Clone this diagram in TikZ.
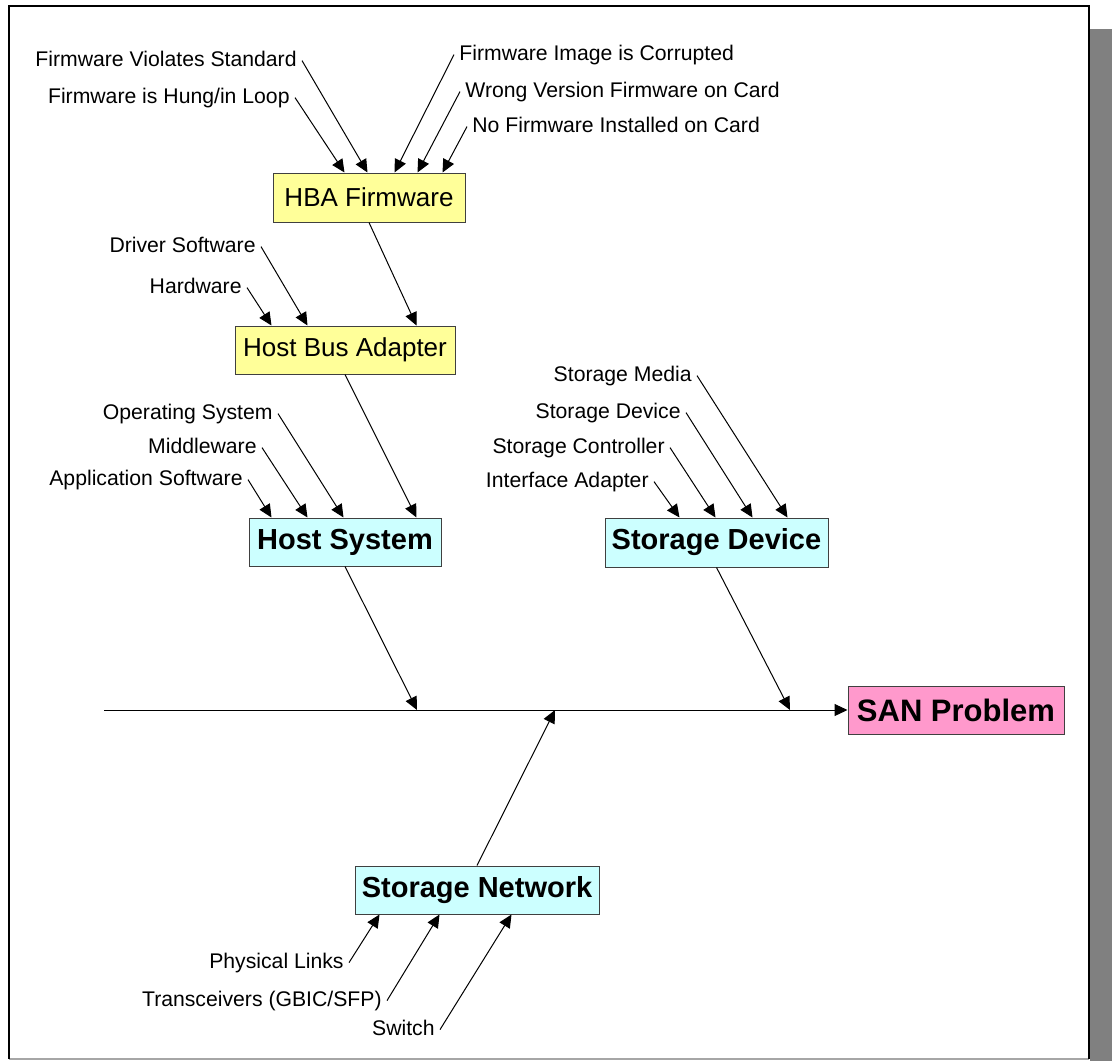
\documentclass[tikz,border=0pt]{standalone}
\usepackage{fontspec}
\setmainfont{Liberation Sans}
\usetikzlibrary{arrows.meta,calc}
\definecolor{boxyellow}{HTML}{FFFF99}
\definecolor{boxcyan}{HTML}{CCFFFF}
\definecolor{boxpink}{HTML}{FF99CC}
\definecolor{shadowgray}{HTML}{808080}
\begin{document}
\begin{tikzpicture}[x=0.5pt,y=-0.5pt,
 lbl/.style={font=\fontsize{10.6}{12}\selectfont, inner sep=2.5pt, text height=7.6pt, text depth=2.2pt},
 box/.style={draw=black!75, line width=0.5pt, inner sep=0pt},
 boxr/.style={box, font=\fontsize{13}{15}\selectfont},
 boxb/.style={box, font=\bfseries\fontsize{14.5}{17}\selectfont},
 arr/.style={line width=0.5pt, -{Triangle[length=6.5pt,width=6pt]}},
]
\useasboundingbox (0,0) rectangle (1112,1061);
% frame and shadow
\fill[shadowgray] (1090,29) rectangle (1112,1061);
\draw[black!35, line width=0.8pt] (9,1059) -- (1089,1059);
\draw[line width=1pt] (9,1059) -- (9,6) -- (1088.5,6) -- (1088.5,1059);

% main boxes
\node[boxr, fill=boxyellow, minimum width=96pt, minimum height=24.5pt] (hbafw) at (369,197.5) {HBA Firmware};
\node[boxr, fill=boxyellow, minimum width=110pt, minimum height=24pt] (hba) at (345,350) {Host Bus Adapter};
\node[boxb, fill=boxcyan, minimum width=96pt, minimum height=24pt] (host) at (345,542) {Host System};
\node[boxb, fill=boxcyan, minimum width=111.5pt, minimum height=24.5pt] (sdev) at (716.5,542.5) {Storage Device};
\node[boxb, fill=boxcyan, minimum width=122pt, minimum height=24pt] (snet) at (477,890) {Storage Network};
\node[box, fill=boxpink, font=\bfseries\fontsize{15.5}{18}\selectfont, minimum width=108pt, minimum height=24pt] (san) at (956,710) {SAN Problem};

% labels
\node[lbl, anchor=base east] (fvs) at (302,66) {Firmware Violates Standard};
\node[lbl, anchor=base east] (fhl) at (295,103) {Firmware is Hung/in Loop};
\node[lbl, anchor=base west] (fic) at (454,60) {Firmware Image is Corrupted};
\node[lbl, anchor=base west] (wvf) at (460,97) {Wrong Version Firmware on Card};
\node[lbl, anchor=base west] (nfi) at (467,132) {No Firmware Installed on Card};
\node[lbl, anchor=base east] (drv) at (261,252) {Driver Software};
\node[lbl, anchor=base east] (hw) at (247,293) {Hardware};
\node[lbl, anchor=base east] (os) at (278,419) {Operating System};
\node[lbl, anchor=base east] (mw) at (262,453) {Middleware};
\node[lbl, anchor=base east] (app) at (248,485) {Application Software};
\node[lbl, anchor=base east] (sm) at (697,381) {Storage Media};
\node[lbl, anchor=base east] (sd) at (686,418) {Storage Device};
\node[lbl, anchor=base east] (sc) at (670,453) {Storage Controller};
\node[lbl, anchor=base east] (ia) at (654,487) {Interface Adapter};
\node[lbl, anchor=base east] (pl) at (349,968) {Physical Links};
\node[lbl, anchor=base east] (tr) at (387,1006) {Transceivers (GBIC/SFP)};
\node[lbl, anchor=base east] (sw) at (440,1035) {Switch};

% cause arrows
\draw[arr] (fvs.east) -- ($(hbafw.north west)+(95,0)$);
\draw[arr] (fhl.east) -- ($(hbafw.north west)+(72,0)$);
\draw[arr] (fic.west) -- ($(hbafw.north west)+(122,0)$);
\draw[arr] (wvf.west) -- ($(hbafw.north west)+(145,0)$);
\draw[arr] (nfi.west) -- ($(hbafw.north west)+(170,0)$);

\draw[arr] (hbafw.south) -- ($(hba.north west)+(182,0)$);
\draw[arr] (drv.east) -- ($(hba.north west)+(73,0)$);
\draw[arr] (hw.east) -- ($(hba.north west)+(37,0)$);

\draw[arr] (hba.south) -- ($(host.north west)+(168,0)$);
\draw[arr] (os.east) -- ($(host.north west)+(95,0)$);
\draw[arr] (mw.east) -- ($(host.north west)+(59,0)$);
\draw[arr] (app.east) -- ($(host.north west)+(23,0)$);

\draw[arr] (sm.east) -- ($(sdev.north west)+(183,0)$);
\draw[arr] (sd.east) -- ($(sdev.north west)+(148,0)$);
\draw[arr] (sc.east) -- ($(sdev.north west)+(111,0)$);
\draw[arr] (ia.east) -- ($(sdev.north west)+(75,0)$);

\draw[arr] (pl.east) -- ($(snet.south west)+(25,0)$);
\draw[arr] (tr.east) -- ($(snet.south west)+(85,0)$);
\draw[arr] (sw.east) -- ($(snet.south west)+(157,0)$);

% spine
\coordinate (spL) at (104,710);
\coordinate (j1) at (417,710);
\coordinate (j2) at (555,710);
\coordinate (j3) at (790,710);
\draw[arr] (spL) -- (san.west);
\draw[arr] (host.south) -- (j1);
\draw[arr] (snet.north) -- (j2);
\draw[arr] (sdev.south) -- (j3);
\end{tikzpicture}
\end{document}
